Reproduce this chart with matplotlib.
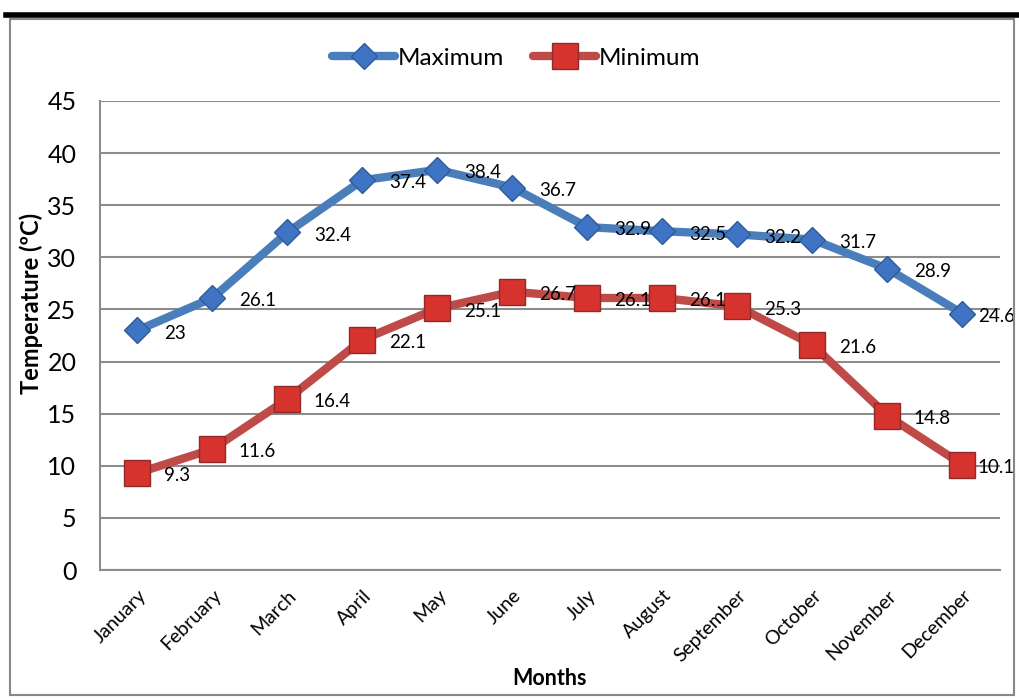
import matplotlib
matplotlib.use("Agg")
import matplotlib.pyplot as plt
from matplotlib.patches import Rectangle
from matplotlib.lines import Line2D
from matplotlib.transforms import ScaledTranslation

months = ["January", "February", "March", "April", "May", "June", "July",
          "August", "September", "October", "November", "December"]
max_temp = [23, 26.1, 32.4, 37.4, 38.4, 36.7, 32.9, 32.5, 32.2, 31.7, 28.9, 24.6]
min_temp = [9.3, 11.6, 16.4, 22.1, 25.1, 26.7, 26.1, 26.1, 25.3, 21.6, 14.8, 10.1]
y_ticks = [0, 5, 10, 15, 20, 25, 30, 35, 40, 45]

plt.rcParams['font.family'] = ['Lato', 'DejaVu Sans']

W, H = 1020, 700
fig = plt.figure(figsize=(W / 100, H / 100), dpi=100)

# outer frame and top rule
fig.add_artist(Rectangle((10 / W, 1 - 695 / H), 1004 / W, 676 / H, transform=fig.transFigure,
                         fill=False, edgecolor='#888888', linewidth=1.5))
fig.add_artist(Line2D([6 / W, 1.0], [1 - 15 / H, 1 - 15 / H], transform=fig.transFigure,
                      color='black', linewidth=4))

ax = fig.add_axes([100 / W, 1 - 570 / H, 900 / W, 469 / H])
x = list(range(len(months)))

blue = '#4A7EBB'
red = '#BE4B48'
ax.plot(x, max_temp, color=blue, linewidth=6, marker='D', markersize=13.5,
        markerfacecolor='#3F74C4', markeredgecolor='#2E5B9A', markeredgewidth=1,
        label='Maximum', zorder=3, solid_capstyle='round')
ax.plot(x, min_temp, color=red, linewidth=6, marker='s', markersize=19,
        markerfacecolor='#D6322E', markeredgecolor='#8E2A27', markeredgewidth=1,
        label='Minimum', zorder=3, solid_capstyle='round')

last = len(months) - 1
for series in (max_temp, min_temp):
    for xi, v in zip(x, series):
        dx = 11 if xi == last else 19
        ax.annotate(f"{v:g}", (xi, v), xytext=(dx, -2), textcoords='offset points',
                    ha='left', va='center', fontsize=13.5, color='black', zorder=4)

ax.set_xlim(-0.5, len(months) - 0.5)
ax.set_ylim(0, 45)
ax.set_yticks(y_ticks)
ax.set_yticklabels([str(t) for t in y_ticks], fontsize=18)
ax.set_xticks(x)
ax.set_xticklabels(months, rotation=45, ha='right', rotation_mode='anchor', fontsize=14)
shift = ScaledTranslation(-6 / 100, 0, fig.dpi_scale_trans)
for lbl in ax.get_xticklabels():
    lbl.set_transform(lbl.get_transform() + shift)
ax.tick_params(axis='y', length=0, pad=17)
ax.tick_params(axis='x', length=0, pad=12)
ax.grid(axis='y', color='#8C8C8C', linewidth=1.5)
ax.set_axisbelow(True)
for side in ['top', 'right']:
    ax.spines[side].set_visible(False)
for side in ['left', 'bottom']:
    ax.spines[side].set_color('#8C8C8C')
    ax.spines[side].set_linewidth(1.5)

ax.set_xlabel('Months', fontsize=15.5, fontweight='bold')
ax.xaxis.set_label_coords(0.5, -(98 / 469))
ax.set_ylabel('Temperature (ºC)', fontsize=17, fontweight='bold')
ax.yaxis.set_label_coords(-(57 / 900), (570 - 303) / 469)

fig.legend(loc='center', bbox_to_anchor=(516 / W, 1 - 58 / H), ncol=2, frameon=False,
           fontsize=17.5, handlelength=2.6, handletextpad=0.1, columnspacing=1.2)

fig.savefig('out.png', dpi=100)
